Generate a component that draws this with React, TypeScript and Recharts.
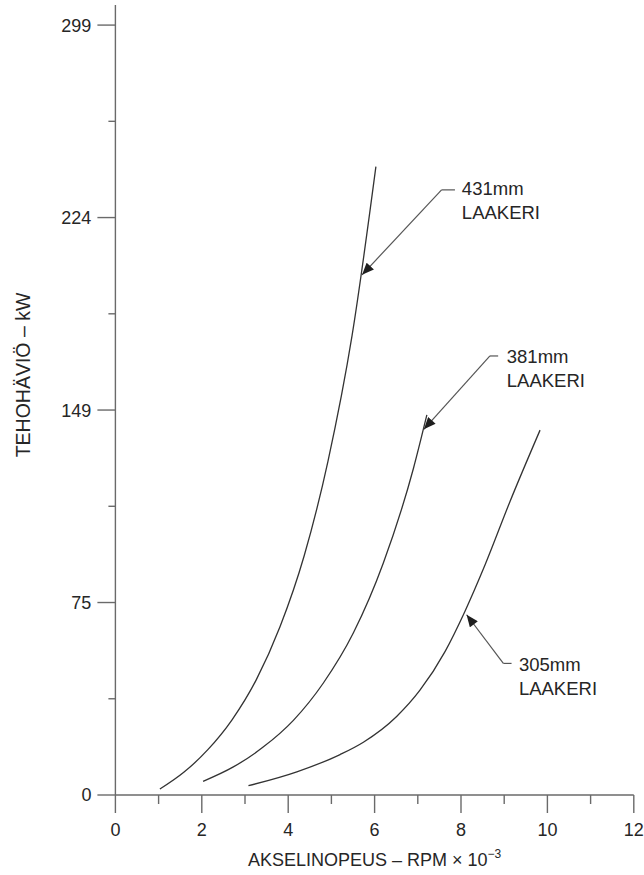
import { LineChart, Line, XAxis, YAxis, ReferenceLine, ReferenceDot } from "recharts";

// curve readings: RPM x 10^-3 vs kW
const rpm431 = [1.03, 1.59, 2.14, 2.7, 3.26, 3.81, 4.37, 4.92, 5.48, 6.03];
const kw431 = [2.3, 8.9, 17.6, 29.2, 44.7, 65.3, 92.9, 129.6, 178.6, 244];

const rpm381 = [2.03, 2.73, 3.42, 4.12, 4.81, 5.51, 6.2, 6.9, 7.21];
const kw381 = [5.3, 10.9, 18.6, 29, 43.4, 63, 90, 126.9, 147.6];

const rpm305 = [3.08, 4.2, 5.2, 5.74, 6.51, 7.05, 7.63, 8.09, 8.56, 9.13, 9.83];
const kw305 = [3.6, 9, 15.7, 20.5, 30.5, 40.7, 55.7, 71.3, 89.5, 113.8, 141.7];

const xTicks = [0, 1, 2, 3, 4, 5, 6, 7, 8, 9, 10, 11, 12];
const yTicks = [0, 37.375, 74.75, 112.125, 149.5, 186.875, 224.25, 261.625, 299];
const yTickLabels = ["0", "", "75", "", "149", "", "224", "", "299"];

// callouts: label anchor, knee of the leader, arrow tip (data units)
const calloutNames = ["431mm", "381mm", "305mm"];
const calloutText = [
  { x: 8.02, y: 233 },
  { x: 9.06, y: 167.6 },
  { x: 9.34, y: 48.3 },
];
const calloutStart = [
  { x: 7.86, y: 235 },
  { x: 8.86, y: 170.5 },
  { x: 9.17, y: 51.1 },
];
const calloutKnee = [
  { x: 7.55, y: 235 },
  { x: 8.67, y: 170.5 },
  { x: 8.98, y: 51.1 },
];
const calloutTip = [
  { x: 5.71, y: 202 },
  { x: 7.14, y: 142 },
  { x: 8.13, y: 70 },
];

const toPoints = (xs: number[], ys: number[]) => xs.map((x, i) => ({ x, y: ys[i] }));

const FONT = "'Liberation Sans', Arial, Helvetica, sans-serif";
const TEXT = "#262626";
const AXIS = "#6a6a6a";
const CURVE = "#333";

function XTick(props: any) {
  const { x, y, payload } = props;
  const v = payload.value as number;
  const major = v % 2 === 0;
  return (
    <g>
      <line x1={x} y1={y} x2={x} y2={y + (major ? 18 : 9)} stroke={AXIS} strokeWidth={1.4} />
      {major && (
        <text x={x} y={y + 41} textAnchor="middle" fontSize={18} fontFamily={FONT} fill={TEXT}>
          {v}
        </text>
      )}
    </g>
  );
}

function YTick(props: any) {
  const { x, y, payload } = props;
  const i = yTicks.indexOf(payload.value);
  const label = yTickLabels[i] ?? "";
  const major = label !== "";
  return (
    <g>
      <line x1={x} y1={y} x2={x - (major ? 18 : 7)} y2={y} stroke={AXIS} strokeWidth={1.4} />
      {major && (
        <text x={x - 24} y={y} dy="0.36em" textAnchor="end" fontSize={18} fontFamily={FONT} fill={TEXT}>
          {label}
        </text>
      )}
    </g>
  );
}

function XLabel(props: any) {
  const { x, y, width } = props.viewBox;
  return (
    <text x={x + width / 2} y={y + 71} textAnchor="middle" fontSize={18} fontFamily={FONT} fill={TEXT}>
      AKSELINOPEUS – RPM × 10
      <tspan dy={-8} fontSize={12}>−3</tspan>
    </text>
  );
}

function YLabel() {
  return (
    <text
      x={30}
      y={375}
      transform="rotate(-90 30 375)"
      textAnchor="middle"
      fontSize={19.5}
      fontFamily={FONT}
      fill={TEXT}
    >
      TEHOHÄVIÖ – kW
    </text>
  );
}

function Leader(props: any) {
  const { x1, y1, x2, y2, arrow } = props;
  return (
    <line
      x1={x1}
      y1={y1}
      x2={x2}
      y2={y2}
      stroke="#555"
      strokeWidth={1.2}
      markerEnd={arrow ? "url(#calloutArrow)" : undefined}
    />
  );
}

function CalloutLabel(name: string) {
  return (props: any) => {
    const { cx, cy } = props;
    return (
      <text x={cx} y={cy} fontSize={18.5} fontFamily={FONT} fill={TEXT}>
        <tspan x={cx}>{name}</tspan>
        <tspan x={cx} dy={24}>LAAKERI</tspan>
      </text>
    );
  };
}

export default function App() {
  return (
    <div style={{ position: "absolute", left: 0, top: 0, width: 644, height: 875, background: "#fff" }}>
      <LineChart width={644} height={875} margin={{ top: 5, right: 10.2, left: 0, bottom: 0 }}>
        <defs>
          <marker
            id="calloutArrow"
            viewBox="0 0 12 10"
            refX={12}
            refY={5}
            markerWidth={13}
            markerHeight={10}
            markerUnits="userSpaceOnUse"
            orient="auto"
          >
            <path d="M0,0 L12,5 L0,10 z" fill="#1e1e1e" />
          </marker>
        </defs>
        <XAxis
          type="number"
          dataKey="x"
          domain={[0, 12]}
          ticks={xTicks}
          interval={0}
          height={80}
          tickSize={0}
          tickMargin={0}
          tick={<XTick />}
          axisLine={{ stroke: AXIS, strokeWidth: 1.4 }}
          tickLine={false}
          label={<XLabel />}
        />
        <YAxis
          type="number"
          dataKey="y"
          domain={[0, 306.8]}
          ticks={yTicks}
          interval={0}
          width={115.4}
          tickSize={0}
          tickMargin={0}
          tick={<YTick />}
          axisLine={{ stroke: AXIS, strokeWidth: 1.4 }}
          tickLine={false}
          label={<YLabel />}
        />
        <Line
          data={toPoints(rpm431, kw431)}
          dataKey="y"
          type="monotone"
          stroke={CURVE}
          strokeWidth={1.3}
          dot={false}
          isAnimationActive={false}
        />
        <Line
          data={toPoints(rpm381, kw381)}
          dataKey="y"
          type="monotone"
          stroke={CURVE}
          strokeWidth={1.3}
          dot={false}
          isAnimationActive={false}
        />
        <Line
          data={toPoints(rpm305, kw305)}
          dataKey="y"
          type="monotone"
          stroke={CURVE}
          strokeWidth={1.3}
          dot={false}
          isAnimationActive={false}
        />
        {calloutNames.map((name, i) => (
          <ReferenceLine
            key={`h${i}`}
            segment={[calloutStart[i], calloutKnee[i]]}
            ifOverflow="visible"
            shape={(p: any) => <Leader {...p} arrow={false} />}
          />
        ))}
        {calloutNames.map((name, i) => (
          <ReferenceLine
            key={`d${i}`}
            segment={[calloutKnee[i], calloutTip[i]]}
            ifOverflow="visible"
            shape={(p: any) => <Leader {...p} arrow={true} />}
          />
        ))}
        {calloutNames.map((name, i) => (
          <ReferenceDot
            key={`t${i}`}
            x={calloutText[i].x}
            y={calloutText[i].y}
            r={1}
            ifOverflow="visible"
            shape={CalloutLabel(name)}
          />
        ))}
      </LineChart>
    </div>
  );
}
